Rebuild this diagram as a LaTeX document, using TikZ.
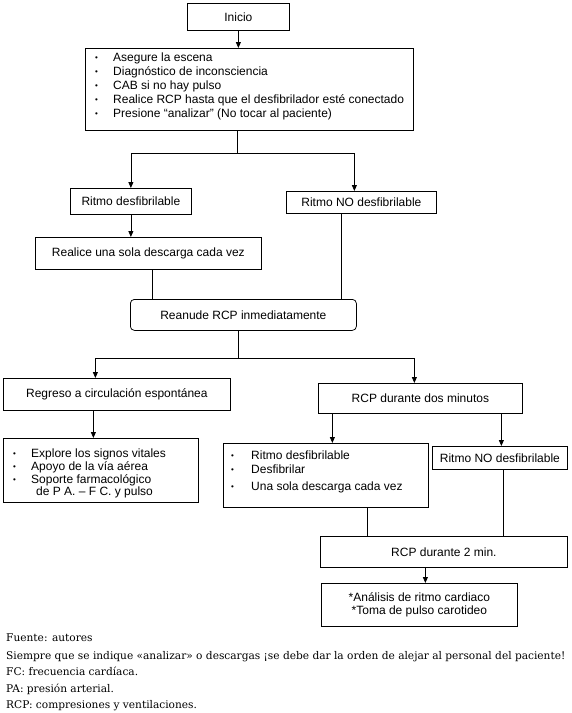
\documentclass[tikz,border=0pt]{standalone}
\usepackage{fontspec}
\setmainfont{DejaVu Serif}
\newfontfamily\diagfont{Liberation Sans}
\usetikzlibrary{arrows.meta,calc}
\newcommand{\dgfont}{\diagfont\fontsize{12}{13}\selectfont}
\newcommand{\dglist}{\diagfont\fontsize{12}{14}\selectfont}
\newcommand{\ftfont}{\fontsize{10.6}{12}\selectfont}
\newcommand{\mybul}[1][18pt]{\makebox[#1][l]{\fontsize{8}{8}\selectfont\raisebox{0.8pt}{•}}}
\tikzset{
  box/.style={draw, line width=0.75pt, inner sep=0pt, anchor=north west, font=\dgfont, align=center},
  txt/.style={inner sep=0pt, anchor=north west, font=\dglist, align=left},
  ln/.style={line width=0.75pt},
  arr/.style={ln, -{Triangle[width=5pt,length=6pt]}},
  foot/.style={inner sep=0pt, anchor=base west, font=\ftfont},
}
\begin{document}
\begin{tikzpicture}[x=1pt,y=-1pt]
\useasboundingbox (0,0) rectangle (572,713);

\node[box, minimum width=102pt, minimum height=27pt] (inicio) at (187,3) {Inicio};
\node[box, minimum width=328pt, minimum height=82pt] (main) at (85,48) {};
\node[txt] (mainlist) at (95,52.7) {\mybul Asegure la escena\\
\mybul Diagnóstico de inconsciencia\\
\mybul CAB si no hay pulso\\
\mybul Realice RCP hasta que el desfibrilador esté conectado\\
\mybul Presione “analizar” (No tocar al paciente)};

\node[box, minimum width=121pt, minimum height=26pt] (rd) at (70,188) {Ritmo desfibrilable};
\node[box, minimum width=150pt, minimum height=22pt] (rn) at (286,191) {Ritmo NO desfibrilable};
\node[box, minimum width=226pt, minimum height=32pt] (realice) at (35,237) {Realice una sola descarga cada vez};
\node[box, rounded corners=4pt, minimum width=226pt, minimum height=31pt] (reanude) at (130,299) {Reanude RCP inmediatamente};
\node[box, minimum width=227pt, minimum height=32pt] (regreso) at (3,378) {Regreso a circulación espontánea};
\node[box, minimum width=204pt, minimum height=30pt] (rcpdos) at (318,383) {RCP durante dos minutos};

\node[box, minimum width=195pt, minimum height=64pt] (explore) at (3,438) {};
\node[txt, font=\diagfont\fontsize{12}{12.7}\selectfont] (explist) at (13,448.7) {\mybul Explore los signos vitales\\
\mybul Apoyo de la vía aérea\\
\mybul Soporte farmacológico\\
\hspace*{23pt}de P A. – F C. y pulso};

\node[box, minimum width=205pt, minimum height=64pt] (bul2) at (223,443) {};
\node[txt] (bul2list) at (231,450.6) {\mybul[20pt]Ritmo desfibrilable\\
\mybul[20pt]Desfibrilar\\[3pt]
\mybul[20pt]Una sola descarga cada vez};

\node[box, minimum width=135pt, minimum height=23pt] (no2) at (432,446) {Ritmo NO desfibrilable};
\node[box, minimum width=247pt, minimum height=31pt] (rcp2) at (320,536) {RCP durante 2 min.};
\node[box, minimum width=196pt, minimum height=43pt] (anal) at (321,583) {*Análisis de ritmo cardiaco\\*Toma de pulso carotideo};

% connectors
\draw[arr] (inicio.south) -- (inicio.south |- main.north);
\coordinate (f1) at (237,153);
\draw[ln] (main.south -| f1) -- (f1);
\draw[arr] (f1) -| (rd.north);
\coordinate (rnin) at ([xshift=-7pt]rn.north);
\draw[arr] (f1) -| (rnin);
\draw[arr] (rd.south) -- (rd.south |- realice.north);
\coordinate (a1) at ([xshift=4pt]realice.south);
\draw[ln] (a1) -- (a1 |- reanude.north);
\coordinate (a2) at ([xshift=-20pt]rn.south);
\draw[ln] (a2) -- (a2 |- reanude.north);
\coordinate (f2) at (238,358);
\draw[ln] (reanude.south -| f2) -- (f2);
\coordinate (regin) at ([xshift=-21.5pt]regreso.north);
\coordinate (rcpin) at ([xshift=-6pt]rcpdos.north);
\draw[arr] (f2) -| (regin);
\draw[arr] (f2) -| (rcpin);
\coordinate (a3) at ([xshift=-23.5pt]regreso.south);
\draw[arr] (a3) -- (a3 |- explore.north);
\coordinate (a4) at ([xshift=-88pt]rcpdos.south);
\draw[arr] (a4) -- (a4 |- bul2.north);
\coordinate (a5) at ([xshift=81pt]rcpdos.south);
\draw[arr] (a5) -- (a5 |- no2.north);
\coordinate (a6) at ([xshift=41.5pt]bul2.south);
\draw[ln] (a6) -- (a6 |- rcp2.north);
\coordinate (a7) at ([xshift=3.5pt]no2.south);
\draw[ln] (a7) -- (a7 |- rcp2.north);
\coordinate (a8) at ([xshift=-18.5pt]rcp2.south);
\draw[arr] (a8) -- (a8 |- anal.north);

% footer
\node[foot] (fuente) at (6,641) {Fuente: autores};
\node[foot] (siempre) at (6,659) {Siempre que se indique «analizar» o descargas ¡se debe dar la orden de alejar al personal del paciente!};
\node[foot] (fc) at (6,675) {FC: frecuencia cardíaca.};
\node[foot] (pa) at (6,692) {PA: presión arterial.};
\node[foot] (rcpf) at (6,708) {RCP: compresiones y ventilaciones.};
\end{tikzpicture}
\end{document}
